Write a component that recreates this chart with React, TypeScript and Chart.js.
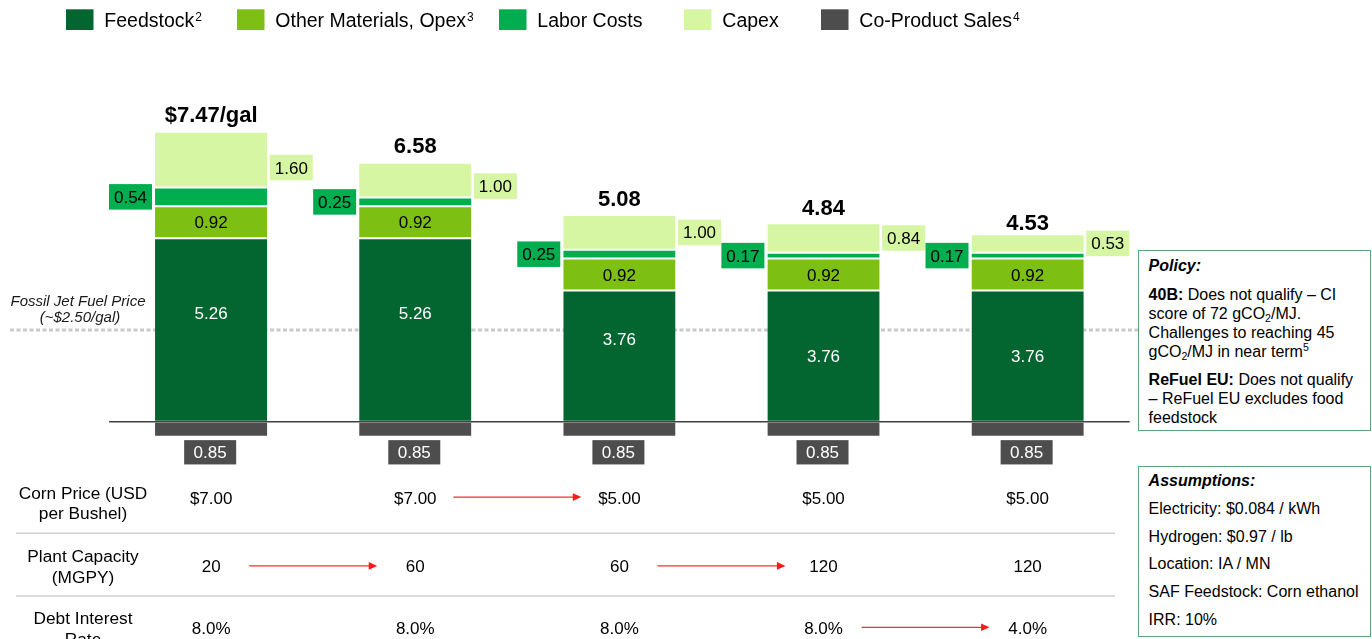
import React, { useEffect, useRef } from "react";
import { Chart, registerables } from "chart.js";

Chart.register(...registerables);

// ---------------- data ----------------
const scenarios = ["Scenario 1", "Scenario 2", "Scenario 3", "Scenario 4", "Scenario 5"];
const feedstock = [5.26, 5.26, 3.76, 3.76, 3.76];
const otherMaterials = [0.92, 0.92, 0.92, 0.92, 0.92];
const laborCosts = [0.54, 0.25, 0.25, 0.17, 0.17];
const capex = [1.6, 1.0, 1.0, 0.84, 0.53];
const coProductSales = [-0.85, -0.85, -0.85, -0.85, -0.85];
const seriesNames = ["Feedstock", "Other Materials, Opex", "Labor Costs", "Capex", "Co-Product Sales"];
const seriesFootnotes = ["2", "3", "", "", "4"];
const fossilJetFuelPrice = 2.63;
const fossilLabel = ["Fossil Jet Fuel Price", "(~$2.50/gal)"];
const tableRowLabels = [
  ["Corn Price (USD", "per Bushel)"],
  ["Plant Capacity", "(MGPY)"],
  ["Debt Interest", "Rate"],
];
const cornPrice = ["$7.00", "$7.00", "$5.00", "$5.00", "$5.00"];
const plantCapacity = ["20", "60", "60", "120", "120"];
const debtInterestRate = ["8.0%", "8.0%", "8.0%", "8.0%", "4.0%"];
const assumptions = [
  "Electricity: $0.084 / kWh",
  "Hydrogen: $0.97 / lb",
  "Location: IA / MN",
  "SAF Feedstock: Corn ethanol",
  "IRR: 10%",
];

// ---------------- styles ----------------
const COLORS = ["#03652F", "#7DBF13", "#00AE4F", "#D6F6A3", "#4D4D4D"];
const FONT = '"Liberation Sans", Arial, Helvetica, sans-serif';
const font = (size: number, weight = "normal", style = "normal") => `${style} ${weight} ${size}px ${FONT}`;

const feedLabelShift = [-17, -17, -17, 0, 0];
const capexLabelShift = [8, 6, 0, 0, 0];
const topLabelLift = [10, 9.4, 9, 8.3, 4.2];
const legendX = [66, 237, 499, 684, 821];

const fmt = (v: number) => Math.abs(v).toFixed(2);

function textMid(ctx: CanvasRenderingContext2D, s: string, x: number, cy: number, size: number, align: CanvasTextAlign = "center") {
  ctx.textAlign = align;
  ctx.textBaseline = "alphabetic";
  ctx.fillText(s, x, cy + 0.358 * size);
}

function labelBox(ctx: CanvasRenderingContext2D, cx: number, cy: number, w: number, h: number, fill: string, text: string, color: string) {
  ctx.fillStyle = fill;
  ctx.fillRect(cx - w / 2, cy - h / 2, w, h);
  ctx.fillStyle = color;
  ctx.font = font(17);
  textMid(ctx, text, cx, cy, 17);
}

const overlayPlugin = {
  id: "overlay",
  beforeDatasetsDraw(chart: any) {
    const ctx: CanvasRenderingContext2D = chart.ctx;
    const yy = chart.scales.y.getPixelForValue(fossilJetFuelPrice);
    ctx.save();
    ctx.strokeStyle = "#CACACA";
    ctx.lineWidth = 3;
    ctx.setLineDash([4, 2.5]);
    ctx.beginPath();
    ctx.moveTo(10, yy);
    ctx.lineTo(1140, yy);
    ctx.stroke();
    ctx.setLineDash([]);
    ctx.fillStyle = "#1a1a1a";
    ctx.font = font(15, "normal", "italic");
    textMid(ctx, fossilLabel[0], 78, yy - 29, 15);
    textMid(ctx, fossilLabel[1], 80, yy - 13, 15);
    ctx.restore();
  },
  afterDatasetsDraw(chart: any) {
    const ctx: CanvasRenderingContext2D = chart.ctx;
    const area = chart.chartArea;
    const y0 = chart.scales.y.getPixelForValue(0);
    const metas = [0, 1, 2, 3, 4].map((i) => chart.getDatasetMeta(i).data);
    ctx.save();
    ctx.strokeStyle = "#404040";
    ctx.lineWidth = 1.5;
    ctx.beginPath();
    ctx.moveTo(area.left, y0);
    ctx.lineTo(area.right, y0);
    ctx.stroke();

    for (let j = 0; j < scenarios.length; j++) {
      const f = metas[0][j], o = metas[1][j], l = metas[2][j], c = metas[3][j], cp = metas[4][j];
      const left = f.x - f.width / 2;
      const right = f.x + f.width / 2;
      ctx.font = font(17);
      ctx.fillStyle = "#ffffff";
      textMid(ctx, fmt(feedstock[j]), f.x, (f.y + f.base) / 2 + feedLabelShift[j], 17);
      ctx.fillStyle = "#000000";
      textMid(ctx, fmt(otherMaterials[j]), o.x, (o.y + o.base) / 2, 17);
      labelBox(ctx, left - 3 - 21.5, (l.y + l.base) / 2, 43, 25.5, COLORS[2], fmt(laborCosts[j]), "#000");
      labelBox(ctx, right + 2.5 + 21.5, (c.y + c.base) / 2 + capexLabelShift[j], 43, 25.5, COLORS[3], fmt(capex[j]), "#000");
      labelBox(ctx, cp.x - 1, area.bottom + 4.5 + 12.15, 52, 24.3, COLORS[4], fmt(coProductSales[j]), "#fff");
      const total = feedstock[j] + otherMaterials[j] + laborCosts[j] + capex[j] + coProductSales[j];
      const txt = j === 0 ? `$${total.toFixed(2)}/gal` : total.toFixed(2);
      ctx.fillStyle = "#000";
      ctx.font = font(22, "bold");
      ctx.textAlign = "center";
      ctx.textBaseline = "alphabetic";
      ctx.fillText(txt, c.x, c.y - topLabelLift[j]);
    }
    ctx.restore();
  },
  afterDraw(chart: any) {
    const ctx: CanvasRenderingContext2D = chart.ctx;
    ctx.save();
    // legend
    for (let i = 0; i < seriesNames.length; i++) {
      const sx = legendX[i];
      ctx.fillStyle = COLORS[i];
      ctx.fillRect(sx, 9.3, 27.5, 20.7);
      ctx.fillStyle = "#000";
      ctx.font = font(19.5);
      ctx.textAlign = "left";
      ctx.textBaseline = "alphabetic";
      const tx = sx + 38.3;
      ctx.fillText(seriesNames[i], tx, 27.3);
      if (seriesFootnotes[i]) {
        const w = ctx.measureText(seriesNames[i]).width;
        ctx.font = font(12);
        ctx.fillText(seriesFootnotes[i], tx + w + 1, 21.3);
      }
    }
    // table
    const xs = scenarios.map((_, j) => chart.scales.x.getPixelForValue(j));
    const rows = [
      { label: tableRowLabels[0], values: cornPrice, labelY: [492.7, 513], valueY: 497.6 },
      { label: tableRowLabels[1], values: plantCapacity, labelY: [556, 576.7], valueY: 566.4 },
      { label: tableRowLabels[2], values: debtInterestRate, labelY: [618.3, 639], valueY: 627.8 },
    ];
    ctx.strokeStyle = "#D0D0D0";
    ctx.lineWidth = 1.5;
    [533.3, 596].forEach((ly) => {
      ctx.beginPath();
      ctx.moveTo(16, ly);
      ctx.lineTo(1115, ly);
      ctx.stroke();
    });
    rows.forEach((r) => {
      ctx.fillStyle = "#000";
      ctx.font = font(17.3);
      r.label.forEach((s, k) => textMid(ctx, s, 83, r.labelY[k], 17.3));
      ctx.font = font(17);
      r.values.forEach((v, j) => textMid(ctx, v, xs[j], r.valueY, 17));
      for (let j = 1; j < r.values.length; j++) {
        if (r.values[j] !== r.values[j - 1]) {
          const mid = (xs[j] + xs[j - 1]) / 2;
          const x1 = mid - 64, x2 = mid + 64, ay = r.valueY - 0.5;
          ctx.strokeStyle = "#FF2A2A";
          ctx.lineWidth = 1.3;
          ctx.beginPath();
          ctx.moveTo(x1, ay);
          ctx.lineTo(x2 - 7, ay);
          ctx.stroke();
          ctx.fillStyle = "#FF1A1A";
          ctx.beginPath();
          ctx.moveTo(x2, ay);
          ctx.lineTo(x2 - 8.5, ay - 3.8);
          ctx.lineTo(x2 - 8.5, ay + 3.8);
          ctx.closePath();
          ctx.fill();
        }
      }
    });
    ctx.restore();
  },
};

const CSS_FONT = '"Liberation Sans", Arial, Helvetica, sans-serif';
const subStyle: React.CSSProperties = { fontSize: 10.5, position: "relative", top: 3, lineHeight: 0, verticalAlign: "baseline" };
const supStyle: React.CSSProperties = { fontSize: 10.5, position: "relative", top: -6, lineHeight: 0, verticalAlign: "baseline" };

export default function App() {
  const ref = useRef<HTMLCanvasElement>(null);
  useEffect(() => {
    const common = {
      borderColor: "#ffffff",
      borderWidth: { top: 1, bottom: 1, left: 0, right: 0 },
      borderSkipped: false,
      clip: 0,
    };
    const series = [feedstock, otherMaterials, laborCosts, capex, coProductSales];
    const chart = new Chart(ref.current as HTMLCanvasElement, {
      type: "bar",
      data: {
        labels: scenarios,
        datasets: series.map((d, i) => ({
          label: seriesNames[i],
          data: d,
          backgroundColor: COLORS[i],
          ...common,
        })) as any,
      },
      options: {
        animation: false,
        responsive: false,
        maintainAspectRatio: false,
        layout: { padding: { left: 109.1, right: 242.3, top: 107.96, bottom: 203.36 } },
        datasets: { bar: { barPercentage: 0.55, categoryPercentage: 1 } },
        plugins: { legend: { display: false }, tooltip: { enabled: false } },
        scales: {
          x: { stacked: true, display: false },
          y: { stacked: true, display: false, min: -0.4, max: 9 },
        },
      } as any,
      plugins: [overlayPlugin as any],
    });
    return () => chart.destroy();
  }, []);

  return (
    <div style={{ position: "absolute", left: 0, top: 0, width: 1372, height: 639, overflow: "hidden", background: "#fff", fontFamily: CSS_FONT, color: "#000" }}>
      <canvas ref={ref} width={1372} height={639} style={{ position: "absolute", left: 0, top: 0, width: 1372, height: 639 }} />
      <div
        style={{
          position: "absolute", left: 1138.3, top: 250, width: 232.4, height: 180.7, boxSizing: "border-box",
          border: "1.5px solid #5FA473", padding: "5px 0 0 9.3px", fontSize: 16, background: "#fff",
        }}
      >
        <div style={{ lineHeight: "19px", fontWeight: 700, fontStyle: "italic", marginBottom: 10 }}>Policy:</div>
        <div style={{ lineHeight: "19px", marginBottom: 9, whiteSpace: "nowrap" }}>
          <b>40B:</b> Does not qualify – CI<br />
          score of 72 gCO<span style={subStyle}>2</span>/MJ.<br />
          Challenges to reaching 45<br />
          gCO<span style={subStyle}>2</span>/MJ in near term<span style={supStyle}>5</span>
        </div>
        <div style={{ lineHeight: "19px", whiteSpace: "nowrap" }}>
          <b>ReFuel EU:</b> Does not qualify<br />
          – ReFuel EU excludes food<br />
          feedstock
        </div>
      </div>
      <div
        style={{
          position: "absolute", left: 1138.3, top: 466, width: 232.4, height: 170.7, boxSizing: "border-box",
          border: "1.5px solid #5FA473", padding: "0 0 0 9.3px", fontSize: 16, background: "#fff",
        }}
      >
        <div style={{ lineHeight: "27.8px", fontWeight: 700, fontStyle: "italic" }}>Assumptions:</div>
        {assumptions.map((a) => (
          <div key={a} style={{ lineHeight: "27.8px", whiteSpace: "nowrap" }}>{a}</div>
        ))}
      </div>
    </div>
  );
}
